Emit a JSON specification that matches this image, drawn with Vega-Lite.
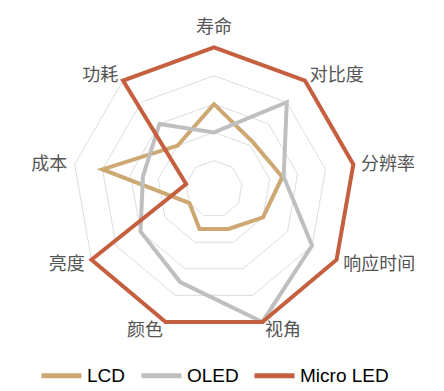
{
  "$schema": "https://vega.github.io/schema/vega-lite/v6.json",
  "width": 444,
  "height": 391,
  "autosize": {"type": "none"},
  "padding": 0,
  "config": {"view": {"stroke": null}},
  "datasets": {
    "axes": [
      {"axis": "寿命", "i": 0, "levels": [1, 2, 3, 4, 5]},
      {"axis": "对比度", "i": 1, "levels": [1, 2, 3, 4, 5]},
      {"axis": "分辨率", "i": 2, "levels": [1, 2, 3, 4, 5]},
      {"axis": "响应时间", "i": 3, "levels": [1, 2, 3, 4, 5]},
      {"axis": "视角", "i": 4, "levels": [1, 2, 3, 4, 5]},
      {"axis": "颜色", "i": 5, "levels": [1, 2, 3, 4, 5]},
      {"axis": "亮度", "i": 6, "levels": [1, 2, 3, 4, 5]},
      {"axis": "成本", "i": 7, "levels": [1, 2, 3, 4, 5]},
      {"axis": "功耗", "i": 8, "levels": [1, 2, 3, 4, 5]}
    ],
    "scores": [
      {"series": "LCD", "axis": "寿命", "i": 0, "value": 3},
      {"series": "LCD", "axis": "对比度", "i": 1, "value": 2.15},
      {"series": "LCD", "axis": "分辨率", "i": 2, "value": 2.45},
      {"series": "LCD", "axis": "响应时间", "i": 3, "value": 2},
      {"series": "LCD", "axis": "视角", "i": 4, "value": 1.5},
      {"series": "LCD", "axis": "颜色", "i": 5, "value": 1.5},
      {"series": "LCD", "axis": "亮度", "i": 6, "value": 1},
      {"series": "LCD", "axis": "成本", "i": 7, "value": 4},
      {"series": "LCD", "axis": "功耗", "i": 8, "value": 2},
      {"series": "OLED", "axis": "寿命", "i": 0, "value": 2},
      {"series": "OLED", "axis": "对比度", "i": 1, "value": 4},
      {"series": "OLED", "axis": "分辨率", "i": 2, "value": 2.5},
      {"series": "OLED", "axis": "响应时间", "i": 3, "value": 4},
      {"series": "OLED", "axis": "视角", "i": 4, "value": 5},
      {"series": "OLED", "axis": "颜色", "i": 5, "value": 3.5},
      {"series": "OLED", "axis": "亮度", "i": 6, "value": 3},
      {"series": "OLED", "axis": "成本", "i": 7, "value": 2.55},
      {"series": "OLED", "axis": "功耗", "i": 8, "value": 3},
      {"series": "Micro LED", "axis": "寿命", "i": 0, "value": 5},
      {"series": "Micro LED", "axis": "对比度", "i": 1, "value": 5},
      {"series": "Micro LED", "axis": "分辨率", "i": 2, "value": 5},
      {"series": "Micro LED", "axis": "响应时间", "i": 3, "value": 5},
      {"series": "Micro LED", "axis": "视角", "i": 4, "value": 5},
      {"series": "Micro LED", "axis": "颜色", "i": 5, "value": 5},
      {"series": "Micro LED", "axis": "亮度", "i": 6, "value": 5},
      {"series": "Micro LED", "axis": "成本", "i": 7, "value": 1},
      {"series": "Micro LED", "axis": "功耗", "i": 8, "value": 5}
    ]
  },
  "layer": [
    {
      "data": {"name": "axes"},
      "transform": [
        {"flatten": ["levels"]},
        {"calculate": "datum.i * 2 * PI / 9", "as": "ang"},
        {"calculate": "datum.levels * sin(datum.ang)", "as": "px"},
        {"calculate": "datum.levels * cos(datum.ang)", "as": "py"}
      ],
      "mark": {"type": "line", "interpolate": "linear-closed", "stroke": "#D4D4D4", "strokeWidth": 0.8},
      "encoding": {
        "x": {"field": "px", "type": "quantitative", "scale": {"domain": [-7.562, 8.127], "nice": false, "zero": false}, "axis": null},
        "y": {"field": "py", "type": "quantitative", "scale": {"domain": [-7.138, 6.678], "nice": false, "zero": false}, "axis": null},
        "detail": {"field": "levels", "type": "nominal"},
        "order": {"field": "i", "type": "quantitative"}
      }
    },
    {
      "data": {"name": "scores"},
      "transform": [
        {"calculate": "datum.i * 2 * PI / 9", "as": "ang"},
        {"calculate": "datum.value * sin(datum.ang)", "as": "px"},
        {"calculate": "datum.value * cos(datum.ang)", "as": "py"}
      ],
      "mark": {"type": "line", "interpolate": "linear-closed", "strokeWidth": 4, "strokeJoin": "miter"},
      "encoding": {
        "x": {"field": "px", "type": "quantitative", "axis": null},
        "y": {"field": "py", "type": "quantitative", "axis": null},
        "color": {
          "field": "series",
          "type": "nominal",
          "sort": ["LCD", "OLED", "Micro LED"],
          "scale": {"domain": ["LCD", "OLED", "Micro LED"], "range": ["#CDA872", "#BFBFBF", "#C4603F"]},
          "legend": {
            "title": null,
            "orient": "none",
            "direction": "horizontal",
            "legendX": 39,
            "legendY": 353,
            "symbolType": "stroke",
            "symbolSize": 1600,
            "symbolStrokeWidth": 5,
            "labelFontSize": 19,
            "labelFont": "Liberation Sans",
            "labelColor": "#000000",
            "labelOffset": 3,
            "columnPadding": 5
          }
        },
        "order": {"field": "i", "type": "quantitative"}
      }
    },
    {
      "data": {"name": "axes"},
      "transform": [
        {"filter": "datum.i == 0"},
        {"calculate": "datum.i * 2 * PI / 9", "as": "ang"},
        {"calculate": "5.69 * sin(datum.ang)", "as": "px"},
        {"calculate": "5.69 * cos(datum.ang)", "as": "py"}
      ],
      "mark": {"type": "text", "align": "center", "baseline": "middle", "fontSize": 18, "font": "Noto Sans CJK SC", "color": "#555555"},
      "encoding": {
        "x": {"field": "px", "type": "quantitative", "axis": null},
        "y": {"field": "py", "type": "quantitative", "axis": null},
        "text": {"field": "axis", "type": "nominal"}
      }
    },
    {
      "data": {"name": "axes"},
      "transform": [
        {"filter": "datum.i >= 1 && datum.i <= 4"},
        {"calculate": "datum.i * 2 * PI / 9", "as": "ang"},
        {"calculate": "5.27 * sin(datum.ang)", "as": "px"},
        {"calculate": "5.27 * cos(datum.ang)", "as": "py"}
      ],
      "mark": {"type": "text", "align": "left", "baseline": "middle", "fontSize": 18, "font": "Noto Sans CJK SC", "color": "#555555", "dy": 1.5},
      "encoding": {
        "x": {"field": "px", "type": "quantitative", "axis": null},
        "y": {"field": "py", "type": "quantitative", "axis": null},
        "text": {"field": "axis", "type": "nominal"}
      }
    },
    {
      "data": {"name": "axes"},
      "transform": [
        {"filter": "datum.i >= 5"},
        {"calculate": "datum.i * 2 * PI / 9", "as": "ang"},
        {"calculate": "5.27 * sin(datum.ang)", "as": "px"},
        {"calculate": "5.27 * cos(datum.ang)", "as": "py"}
      ],
      "mark": {"type": "text", "align": "right", "baseline": "middle", "fontSize": 18, "font": "Noto Sans CJK SC", "color": "#555555", "dy": 1.5},
      "encoding": {
        "x": {"field": "px", "type": "quantitative", "axis": null},
        "y": {"field": "py", "type": "quantitative", "axis": null},
        "text": {"field": "axis", "type": "nominal"}
      }
    }
  ]
}
